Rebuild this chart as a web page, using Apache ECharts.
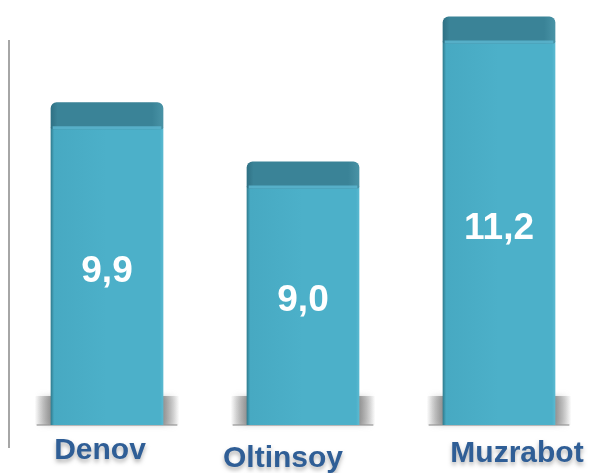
<!DOCTYPE html>
<html>
<head>
<meta charset="utf-8">
<script src="https://cdn.jsdelivr.net/npm/echarts@6/dist/echarts.min.js"></script>
<style>
  html, body { margin: 0; padding: 0; background: #fff; }
  #chart { width: 597px; height: 473px; }
</style>
</head>
<body>
<div id="chart"></div>
<script>
// data
const categories = ['Denov', 'Oltinsoy', 'Muzrabot']
const values = [9.9, 9.0, 11.2]
// small nudges of the category labels, as in the picture
const labelDx = [-7, -20, 18]
const labelDy = [26, 34, 29]

const yMin = 5

const chart = echarts.init(document.getElementById('chart'))

const option = {
  animation: false,
  grid: { left: 9, right: -3, top: 0, bottom: 48 },
  xAxis: {
    type: 'category',
    data: categories,
    axisLine: { show: false },
    axisTick: { show: false },
    axisLabel: { show: false }
  },
  yAxis: {
    type: 'value',
    min: yMin,
    max: 11.45,
    show: false
  },
  graphic: [
    { // left axis line
      type: 'line',
      shape: { x1: 9, y1: 40, x2: 9, y2: 448 },
      style: { stroke: '#a6a6a6', lineWidth: 2 },
      z: 1
    }
  ],
  series: [
    {
      type: 'custom',
      data: values.map(function (v, i) { return [i, v] }),
      renderItem: function (params, api) {
        const i = params.dataIndex
        const top = api.coord([api.value(0), api.value(1)])
        const base = api.coord([api.value(0), yMin])
        const w = api.size([1, 0])[0] * 0.575
        const x = top[0] - w / 2
        const capH = 27
        const h = base[1] - top[1]
        const txt = api.value(1).toFixed(1).replace('.', ',')
        return {
          type: 'group',
          children: [
            { // base shadow
              type: 'rect',
              shape: { x: x - 16, y: base[1] - 29, width: w + 32, height: 29 },
              style: {
                fill: new echarts.graphic.LinearGradient(0, 0, 1, 0, [
                  { offset: 0, color: 'rgba(120,120,120,0)' },
                  { offset: 0.12, color: 'rgba(120,120,120,0.75)' },
                  { offset: 0.88, color: 'rgba(120,120,120,0.75)' },
                  { offset: 1, color: 'rgba(120,120,120,0)' }
                ]),
                shadowBlur: 6,
                shadowColor: 'rgba(120,120,120,0.5)'
              }
            },
            {
              type: 'rect',
              shape: { x: x - 14, y: base[1] - 1, width: w + 28, height: 2 },
              style: { fill: 'rgba(150,150,150,0.6)' }
            },
            { // body
              type: 'rect',
              shape: { x: x, y: top[1] + capH - 2, width: w, height: h - capH + 2 },
              style: {
                fill: new echarts.graphic.LinearGradient(0, 0, 1, 0, [
                  { offset: 0, color: '#2f7a8c' },
                  { offset: 0.03, color: '#47a9c2' },
                  { offset: 0.5, color: '#4cb0c9' },
                  { offset: 0.97, color: '#4cb0c9' },
                  { offset: 1, color: '#5bbad2' }
                ])
              }
            },
            { // cap
              type: 'rect',
              shape: { x: x, y: top[1], width: w, height: capH, r: [6, 6, 2, 2] },
              style: {
                fill: new echarts.graphic.LinearGradient(0, 0, 1, 0, [
                  { offset: 0, color: '#2f7083' },
                  { offset: 0.06, color: '#3a8397' },
                  { offset: 0.9, color: '#3a8397' },
                  { offset: 1, color: '#4993a6' }
                ])
              }
            },
            { // lighter rim under the cap
              type: 'rect',
              shape: { x: x + 2, y: top[1] + capH - 3, width: w - 4, height: 3 },
              style: { fill: 'rgba(90,180,205,0.9)' }
            },
            { // value
              type: 'text',
              style: {
                text: txt,
                x: top[0],
                y: (top[1] + base[1]) / 2 + 8,
                align: 'center',
                verticalAlign: 'middle',
                fill: '#ffffff',
                font: 'bold 37px "Liberation Sans", Arial, sans-serif'
              }
            },
            { // category
              type: 'text',
              style: {
                text: categories[i],
                x: top[0] + labelDx[i],
                y: base[1] + labelDy[i],
                align: 'center',
                verticalAlign: 'middle',
                fill: '#2f5e96',
                font: 'bold 30px "Liberation Sans", Arial, sans-serif',
                textShadowColor: 'rgba(0,0,0,0.3)',
                textShadowBlur: 4,
                textShadowOffsetY: 3
              }
            }
          ]
        }
      }
    }
  ]
}

chart.setOption(option)
</script>
</body>
</html>
